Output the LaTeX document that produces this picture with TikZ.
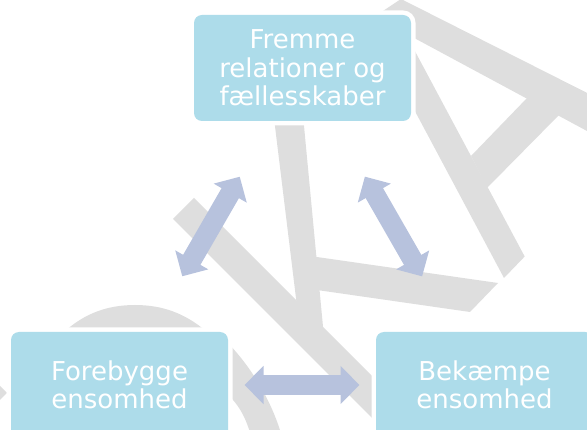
\documentclass[tikz,border=0pt]{standalone}
\usepackage{fontspec}
\setmainfont{DejaVu Sans}
\usetikzlibrary{arrows.meta,calc}
\definecolor{boxblue}{HTML}{ADDCEA}
\definecolor{arrowblue}{HTML}{B7C2DD}
\definecolor{wmgrey}{HTML}{DEDEDE}
\begin{document}
\begin{tikzpicture}[x=1pt,y=-1pt,
  box/.style={rectangle, rounded corners=8pt, fill=boxblue, text=white, align=center,
    minimum width=217pt, minimum height=106pt, inner sep=0pt,
    preaction={draw=white, line width=9pt}},
  toptext/.style={font=\fontsize{26}{28.5}\selectfont},
  bottext/.style={font=\fontsize{26}{27.5}\selectfont},
  wm/.style={fill=wmgrey},
  arr/.style={draw=arrowblue, line width=20pt, <->, >={Triangle[width=37pt,length=19pt]}}]
\useasboundingbox (0,0) rectangle (587,430);
\clip (0,0) rectangle (587,430);
% watermark
\fill[wm] (401,-1) -- (383,11) -- (380,19.6) -- (590,132.6) -- (590,94.4) -- (403,0) -- cycle;
\fill[wm] (409,40) -- (524.7,256.5) -- (504,278) -- (409,100) -- cycle;
\fill[wm] (528,97) -- (560,114) -- (487,188) -- (471,156) -- cycle;
\fill[wm] (273,110) -- (302.5,110) -- (323.8,335) -- (300.5,335) -- cycle;
\fill[wm] (310,256) -- (498,283) -- (470,312) -- (310,289) -- cycle;
\fill[wm] (173,219) -- (194,198) -- (400,404) -- (400,446) -- cycle;
\fill[wm] (64,332) .. controls (85,313) and (108,305) .. (135,305) .. controls (162,305) and (185,313) .. (207,332) -- cycle;
\fill[wm] (225,340) .. controls (250,365) and (272,400) .. (283,440) -- (252,440) .. controls (247,420) and (240,405) .. (225,392) -- cycle;
\fill[wm] (0,386) -- (7,393) -- (0,400) -- cycle;
% boxes
\node[box, toptext] (top) at (302.5,68) {Fremme\\relationer og\\fællesskaber};
\node[box, bottext] (fl) at (119.5,385) {Forebygge\\ensomhed};
\node[box, bottext] (fr) at (484.5,385) {Bekæmpe\\ensomhed};
% arrows
\coordinate (mL) at ($(top)!0.5!(fl)$);
\coordinate (mR) at ($(top)!0.5!(fr)$);
\coordinate (mB) at ($(fl)!0.5!(fr)$);
\draw[arr] ($(mL)!57.5pt!(top)$) -- ($(mL)!57.5pt!(fl)$);
\draw[arr] ($(mR)!57.5pt!(top)$) -- ($(mR)!57.5pt!(fr)$);
\draw[arr] ($(mB)!57.5pt!(fl)$) -- ($(mB)!57.5pt!(fr)$);
\end{tikzpicture}
\end{document}
